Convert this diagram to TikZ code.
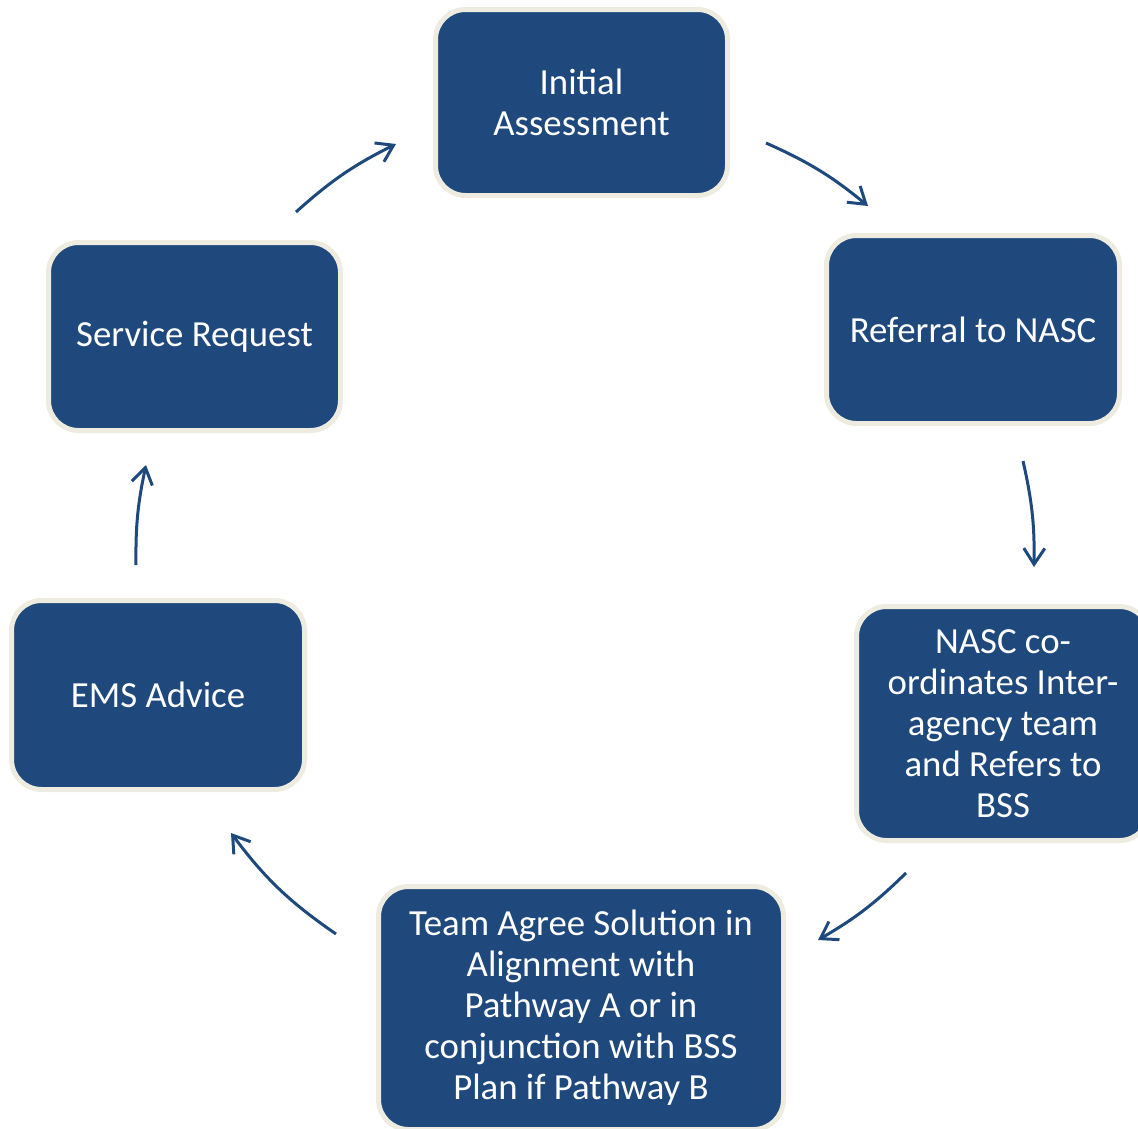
\documentclass[tikz,border=0pt]{standalone}
\usepackage{fontspec}
\setmainfont{Carlito}
\usetikzlibrary{arrows.meta}
\definecolor{boxblue}{HTML}{1F497D}
\definecolor{cream}{HTML}{EEECE1}
\tikzset{
  stepbox/.style={draw=cream, line width=5pt, fill=boxblue, rounded corners=30pt,
    text=white, align=center, inner sep=0pt,
    font=\fontsize{36.8}{41}\selectfont},
  cyc/.style={draw=boxblue, line width=3pt,
    -{Straight Barb[length=16pt,width=21pt,line width=3pt]}},
}
\begin{document}
\begin{tikzpicture}[x=1pt,y=-1pt]
\useasboundingbox (0,0) rectangle (1138,1128);
\node[stepbox, minimum width=292pt, minimum height=186pt] (ia) at (581.5,102.5) {Initial\\Assessment};
\node[stepbox, minimum width=293pt, minimum height=188pt] (rn) at (973,329.5) {Referral to NASC};
\node[stepbox, minimum width=293pt, minimum height=234pt] (nc) at (1003,723.5) {NASC co-\\ordinates Inter-\\agency team\\and Refers to\\BSS};
\node[stepbox, minimum width=405pt, minimum height=243pt] (ta) at (581,1008) {Team Agree Solution in\\Alignment with\\Pathway A or in\\conjunction with BSS\\Plan if Pathway B};
\node[stepbox, minimum width=293pt, minimum height=189pt] (ems) at (158,695) {EMS Advice};
\node[stepbox, minimum width=292pt, minimum height=188pt] (sr) at (194.5,336.5) {Service Request};

\coordinate (a1s) at (296,212);  \coordinate (a1e) at (396,144);
\coordinate (a2s) at (766,143);  \coordinate (a2e) at (868,206);
\coordinate (a3s) at (1023,461); \coordinate (a3e) at (1034,567);
\coordinate (a4s) at (906,873);  \coordinate (a4e) at (818,940);
\coordinate (a5s) at (336,934);  \coordinate (a5e) at (231,833);
\coordinate (a6s) at (136,565);  \coordinate (a6e) at (146,465);

\draw[cyc] (a1s) to[bend left=7.7] (a1e);
\draw[cyc] (a2s) to[bend left=7.7] (a2e);
\draw[cyc] (a3s) to[bend left=6.8] (a3e);
\draw[cyc] (a4s) to[bend left=7.1] (a4e);
\draw[cyc] (a5s) to[bend left=9.3] (a5e);
\draw[cyc] (a6s) to[bend left=6.4] (a6e);
\end{tikzpicture}
\end{document}
